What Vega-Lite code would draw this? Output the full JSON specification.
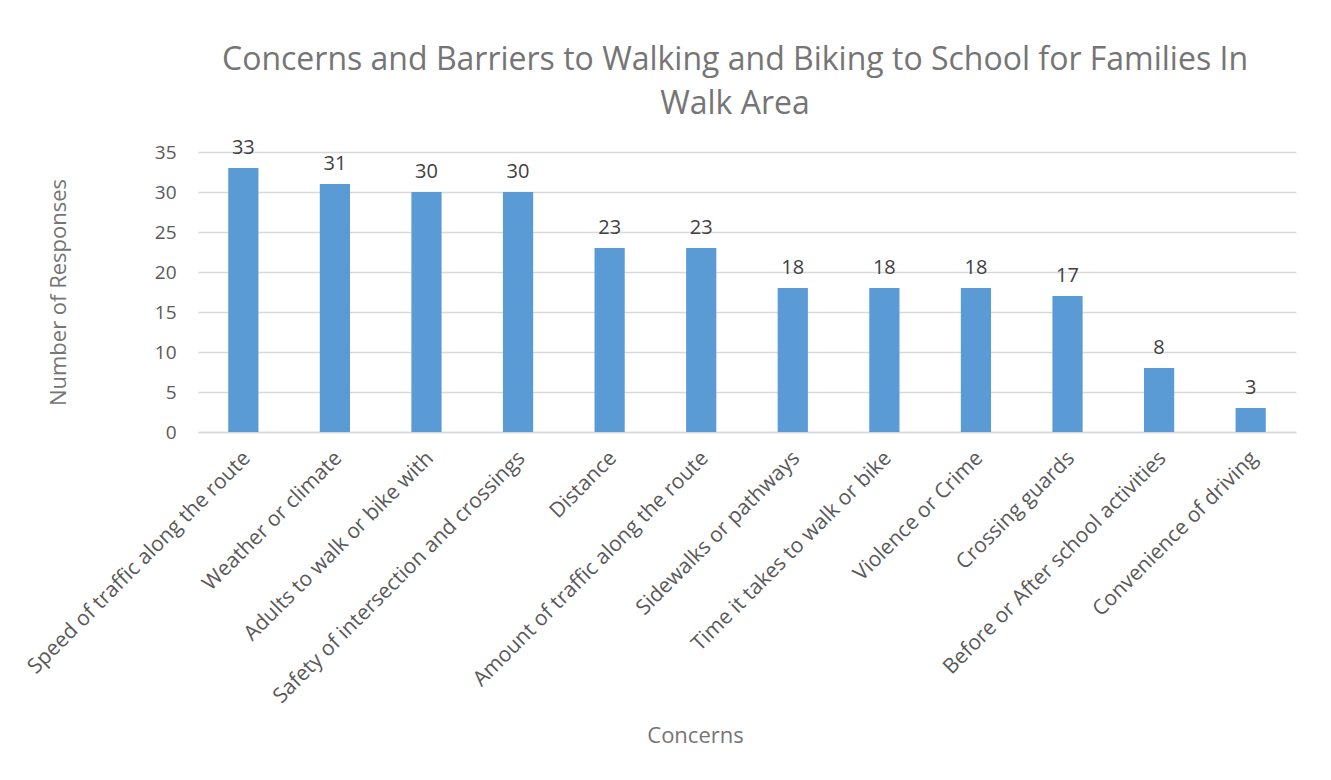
{
  "$schema": "https://vega.github.io/schema/vega-lite/v6.json",
  "autosize": {"type": "none"},
  "width": 1098,
  "height": 280,
  "padding": {"left": 198, "top": 152, "right": 35, "bottom": 348},
  "background": "white",
  "config": {
    "font": "Open Sans",
    "view": {"stroke": null},
    "axis": {"labelColor": "#595959", "titleColor": "#757575", "titleFontWeight": "normal", "labelFont": "Open Sans", "titleFont": "Open Sans"}
  },
  "title": {
    "text": ["Concerns and Barriers to Walking and Biking to School for Families In", "Walk Area"],
    "fontSize": 32,
    "fontWeight": "normal",
    "color": "#757575",
    "anchor": "middle",
    "frame": "group",
    "offset": 17,
    "lineHeight": 44,
    "dx": -12
  },
  "data": {
    "values": [
      {"concern": "Speed of traffic along the route", "responses": 33},
      {"concern": "Weather or climate", "responses": 31},
      {"concern": "Adults to walk or bike with", "responses": 30},
      {"concern": "Safety of intersection and crossings", "responses": 30},
      {"concern": "Distance", "responses": 23},
      {"concern": "Amount of traffic along the route", "responses": 23},
      {"concern": "Sidewalks or pathways", "responses": 18},
      {"concern": "Time it takes to walk or bike", "responses": 18},
      {"concern": "Violence or Crime", "responses": 18},
      {"concern": "Crossing guards", "responses": 17},
      {"concern": "Before or After school activities", "responses": 8},
      {"concern": "Convenience of driving", "responses": 3}
    ]
  },
  "encoding": {
    "x": {
      "field": "concern",
      "type": "nominal",
      "sort": null,
      "scale": {"paddingInner": 0.67, "paddingOuter": 0.33},
      "axis": {
        "title": "Concerns",
        "titleFontSize": 22,
        "titleY": 303,
        "titleX": 497,
        "titleAlign": "center",
        "titleAnchor": null,
        "titleBaseline": "middle",
        "labelAngle": -45,
        "labelFontSize": 21,
        "labelPadding": 15,
        "labelOffset": -4,
        "ticks": false,
        "domainColor": "#D9D9D9",
        "domainWidth": 1.5,
        "labelLimit": 0
      }
    },
    "y": {
      "field": "responses",
      "type": "quantitative",
      "scale": {"domain": [0, 35]},
      "axis": {
        "title": "Number of Responses",
        "titleFontSize": 22,
        "titlePadding": 84,
        "values": [0, 5, 10, 15, 20, 25, 30, 35],
        "labelFontSize": 19,
        "labelPadding": 22,
        "ticks": false,
        "domain": false,
        "gridColor": "#D9D9D9",
        "gridWidth": 1.5
      }
    }
  },
  "layer": [
    {"mark": {"type": "bar", "color": "#5B9BD5"}},
    {
      "mark": {"type": "text", "baseline": "bottom", "dy": -10, "fontSize": 20, "color": "#404040", "font": "Open Sans"},
      "encoding": {"text": {"field": "responses", "type": "quantitative"}}
    }
  ]
}
